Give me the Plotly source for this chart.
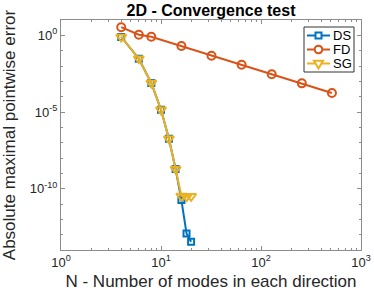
import plotly.graph_objects as go

# Data
N_fd = [4, 6, 8, 16, 32, 64, 128, 256, 512]
err_fd = [3.4, 1.1, 0.81, 0.2, 0.047, 0.012, 0.0029, 7.4e-4, 1.75e-4]

N_ds = [4, 6, 8, 10, 12, 14, 16, 18, 20]
err_ds = [0.78, 0.03, 7.8e-4, 1.4e-5, 1.8e-7, 1.9e-9, 1.8e-11, 1.2e-13, 3.4e-14]

N_sg = [4, 6, 8, 10, 12, 14, 16, 18, 20]
err_sg = [0.78, 0.03, 7.8e-4, 1.4e-5, 1.8e-7, 1.9e-9, 3.3e-11, 3.0e-11, 3.2e-11]

series_names = ["DS", "FD", "SG"]

xtick_vals = [1, 10, 100, 1000]
xtick_text = ["10<sup>0</sup>", "10<sup>1</sup>", "10<sup>2</sup>", "10<sup>3</sup>"]
ytick_vals = [1e-10, 1e-5, 1]
ytick_text = ["10<sup>-10</sup>", "10<sup>-5</sup>", "10<sup>0</sup>"]

C_DS = "#0072BD"
C_FD = "#D95319"
C_SG = "#EDB120"
FONT = "Liberation Sans, Arial, sans-serif"

W, H = 374, 296
ML, MR, MT, MB = 61, 13, 20, 46
PW, PH = W - ML - MR, H - MT - MB

fig = go.Figure()
fig.add_trace(go.Scatter(
    x=N_ds, y=err_ds, name=series_names[0], mode="lines+markers",
    line=dict(color=C_DS, width=2),
    marker=dict(symbol="square-open", size=6, color=C_DS, line=dict(width=2, color=C_DS)),
))
fig.add_trace(go.Scatter(
    x=N_fd, y=err_fd, name=series_names[1], mode="lines+markers",
    line=dict(color=C_FD, width=2),
    marker=dict(symbol="circle-open", size=8, color=C_FD, line=dict(width=2, color=C_FD)),
))
fig.add_trace(go.Scatter(
    x=N_sg, y=err_sg, name=series_names[2], mode="lines+markers",
    line=dict(color=C_SG, width=2),
    marker=dict(symbol="triangle-down-open", size=9, color=C_SG, line=dict(width=2, color=C_SG)),
))

minor_x = [m * 10 ** k for k in range(0, 3) for m in range(2, 10)]
minor_y = [10.0 ** k for k in range(-14, 2)]

axis_common = dict(
    type="log", automargin=False,
    showline=True, linecolor="#8c8c8c", linewidth=1,
    mirror="ticks", ticks="inside", ticklen=4, tickcolor="#8c8c8c",
    showgrid=False, zeroline=False,
    tickfont=dict(family=FONT, size=13, color="#262626"),
    title_font=dict(family=FONT, size=17, color="#262626"),
)


# ---- MATLAB-style compact legend built from layout shapes (pixel positions) ----
def px(xp):
    return (xp - ML) / PW


def py(yp):
    return (H - MB - yp) / PH


shapes = []
annotations = []
box = dict(x0=304, x1=354, y0=27, y1=72)
shapes.append(dict(type="rect", xref="paper", yref="paper",
                   x0=px(box["x0"]), x1=px(box["x1"]), y0=py(box["y1"]), y1=py(box["y0"]),
                   line=dict(color="#333333", width=1), fillcolor="white", layer="above"))
rows = [35.5, 49.5, 63.5]
colors = [C_DS, C_FD, C_SG]
lx0, lx1, lxc = 307, 330, 318.5
for name, col, yr in zip(series_names, colors, rows):
    shapes.append(dict(type="line", xref="paper", yref="paper",
                       x0=px(lx0), x1=px(lx1), y0=py(yr), y1=py(yr),
                       line=dict(color=col, width=2), layer="above"))
    annotations.append(dict(text=name, xref="paper", yref="paper", x=px(331), y=py(yr),
                            xanchor="left", yanchor="middle", showarrow=False,
                            font=dict(family=FONT, size=13, color="black")))
# glyphs
s = 3
shapes.append(dict(type="rect", xref="paper", yref="paper",
                   x0=px(lxc - s), x1=px(lxc + s), y0=py(rows[0] + s), y1=py(rows[0] - s),
                   line=dict(color=C_DS, width=2), fillcolor="white", layer="above"))
r = 3.8
shapes.append(dict(type="circle", xref="paper", yref="paper",
                   x0=px(lxc - r), x1=px(lxc + r), y0=py(rows[1] + r), y1=py(rows[1] - r),
                   line=dict(color=C_FD, width=2), fillcolor="white", layer="above"))
tw, th = 4.5, 4.5
tri = "M {:.4f},{:.4f} L {:.4f},{:.4f} L {:.4f},{:.4f} Z".format(
    px(lxc - tw), py(rows[2] - th * 0.6),
    px(lxc + tw), py(rows[2] - th * 0.6),
    px(lxc), py(rows[2] + th * 1.1))
shapes.append(dict(type="path", xref="paper", yref="paper", path=tri,
                   line=dict(color=C_SG, width=2), fillcolor="white", layer="above"))

fig.update_layout(
    template="none",
    width=W, height=H,
    margin=dict(l=ML, r=MR, t=MT, b=MB, pad=0),
    paper_bgcolor="white", plot_bgcolor="white",
    title=dict(text="<b>2D - Convergence test</b>", x=211 / W, xanchor="center",
               xref="container", y=1 - 10 / H, yanchor="middle",
               font=dict(family=FONT, size=16, color="black")),
    xaxis=dict(
        range=[0, 3], tickmode="array", tickvals=xtick_vals, ticktext=xtick_text,
        title=dict(text="N - Number of modes in each direction", standoff=6),
        minor=dict(tickmode="array", tickvals=minor_x, ticks="inside", ticklen=2,
                   tickcolor="#8c8c8c"),
        **axis_common,
    ),
    yaxis=dict(
        range=[-14, 1], tickmode="array", tickvals=ytick_vals, ticktext=ytick_text,
        title=dict(text="Absolute maximal pointwise error", standoff=9),
        minor=dict(tickmode="array", tickvals=minor_y, ticks="inside", ticklen=2,
                   tickcolor="#8c8c8c"),
        **axis_common,
    ),
    shapes=shapes,
    annotations=annotations,
    showlegend=False,
)

fig.write_html("out.html", config={"displayModeBar": False},
               post_script="document.body.style.margin='0';document.body.style.padding='0';")
